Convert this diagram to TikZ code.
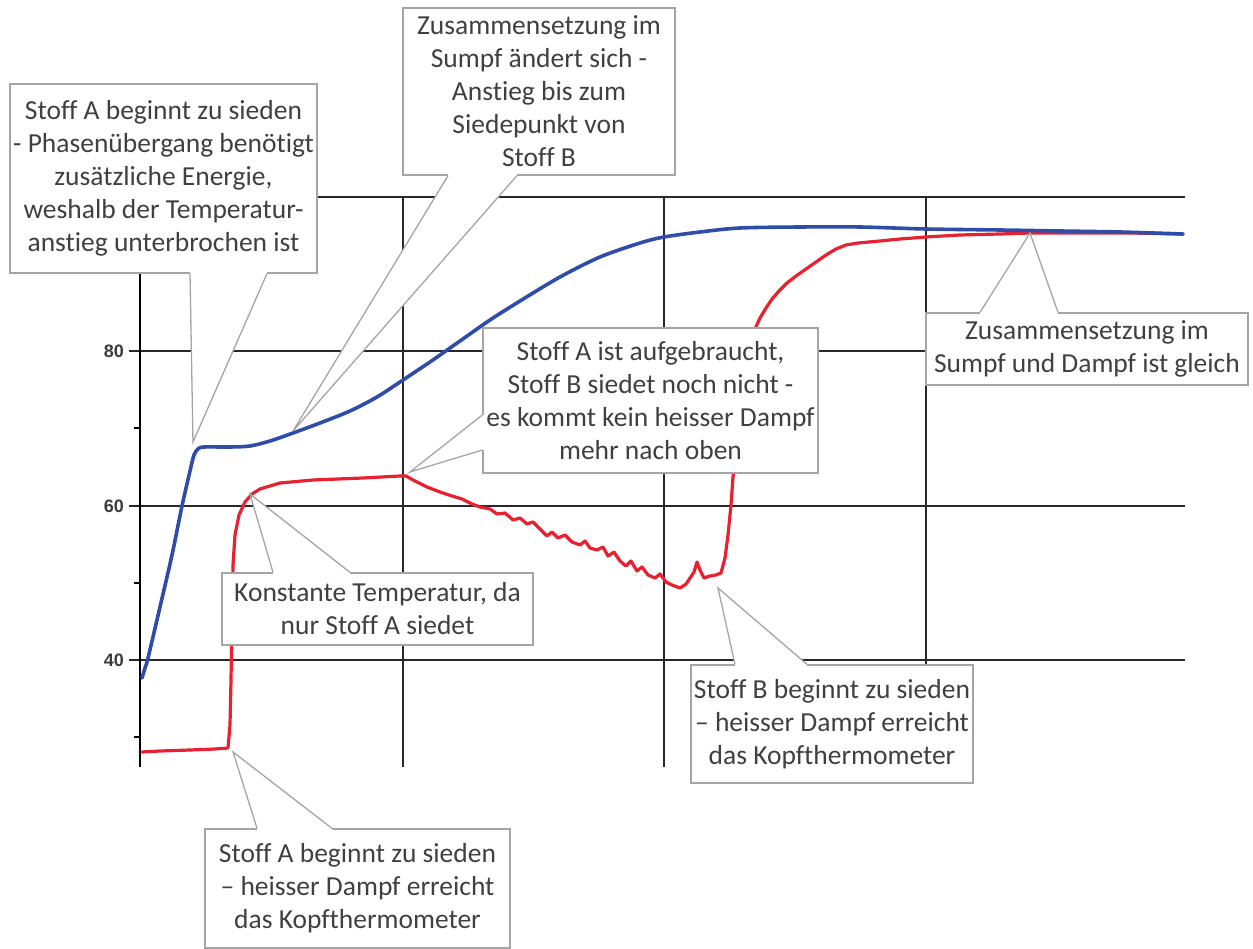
\documentclass[tikz,border=0pt]{standalone}
\usepackage{fontspec}
\setmainfont{Carlito}[Ligatures=NoCommon]
\newfontfamily\axisfont{Liberation Sans}
\usetikzlibrary{calc}
\definecolor{curveblue}{RGB}{47,77,168}
\definecolor{curvered}{RGB}{232,32,48}
\definecolor{boxgray}{RGB}{165,165,165}
\definecolor{txtgray}{RGB}{64,64,64}
\definecolor{gridgray}{RGB}{40,40,40}
\definecolor{labgray}{RGB}{60,60,60}
\pgfdeclarelayer{gridlayer}
\pgfdeclarelayer{wedgelayer}
\pgfdeclarelayer{curvelayer}
\pgfsetlayers{gridlayer,wedgelayer,curvelayer,main}
\tikzset{
  callbox/.style={draw=boxgray, line width=1.3pt, fill=white, inner sep=0pt,
    align=center, text=txtgray, font=\fontsize{27.5}{33}\selectfont},
  wedgeline/.style={draw=boxgray, line width=1.3pt, line join=miter},
  wedgefill/.style={fill=white},
  gridline/.style={draw=gridgray, line width=1.5pt},
  axisline/.style={draw=black, line width=2.6pt},
  minortick/.style={draw=black, line width=1.5pt},
  axislabel/.style={anchor=east, inner sep=0pt, text=labgray,
    font=\axisfont\bfseries\fontsize{18}{18}\selectfont},
  bluecurve/.style={draw=curveblue, line width=3.6pt, line join=round, line cap=round},
  redcurve/.style={draw=curvered, line width=3.2pt, line join=round, line cap=round},
}
\begin{document}
\begin{tikzpicture}[x=1pt,y=-1pt]
\useasboundingbox (0,0) rectangle (1253,949);

% ---------- grid and axis ----------
\begin{pgfonlayer}{gridlayer}
  \coordinate (g100l) at (140,197);  \coordinate (g100r) at (1185,197);
  \coordinate (g80l) at (129,351);   \coordinate (g80r) at (1185,351);
  \coordinate (g60l) at (129,506);   \coordinate (g60r) at (1185,506);
  \coordinate (g40l) at (129,660);   \coordinate (g40r) at (1185,660);
  \coordinate (v1t) at (403,197);    \coordinate (v1b) at (403,767);
  \coordinate (v2t) at (664,197);    \coordinate (v2b) at (664,767);
  \coordinate (v3t) at (926,197);    \coordinate (v3b) at (926,767);
  \coordinate (axt) at (140,197);    \coordinate (axb) at (140,767);
  \draw[gridline] (g100l) -- (g100r);
  \draw[gridline] (g80l) -- (g80r);
  \draw[gridline] (g60l) -- (g60r);
  \draw[gridline] (g40l) -- (g40r);
  \draw[gridline] (v1t) -- (v1b);
  \draw[gridline] (v2t) -- (v2b);
  \draw[gridline] (v3t) -- (v3b);
  \draw[axisline] (axt) -- (axb);
  \coordinate (m70) at (134,428); \coordinate (m70e) at (140,428);
  \coordinate (m50) at (134,583); \coordinate (m50e) at (140,583);
  \coordinate (m30) at (134,737); \coordinate (m30e) at (140,737);
  \draw[minortick] (m70) -- (m70e);
  \draw[minortick] (m50) -- (m50e);
  \draw[minortick] (m30) -- (m30e);
  \node[axislabel] (l80) at (124,351) {80};
  \node[axislabel] (l60) at (124,506) {60};
  \node[axislabel] (l40) at (124,660) {40};
\end{pgfonlayer}

% ---------- curves ----------
\begin{pgfonlayer}{curvelayer}
  \draw[redcurve] (142,752) -- (160,751) -- (190,750) -- (215,749) -- (228,748)
    -- (230,725) -- (231,680) -- (232,620) -- (233,565) -- (235,535) -- (239,515)
    -- (245,502) -- (252,494) -- (260,489) -- (280,483) -- (313,480) -- (363,478)
    -- (400,476) -- (406,476) -- (413,480) -- (427,487) -- (440,492) -- (452,496)
    -- (462,499) -- (472,504) -- (480,507) -- (490,509) -- (497,514) -- (505,513)
    -- (513,520) -- (520,518) -- (527,524) -- (533,522) -- (540,529) -- (547,536)
    -- (552,532) -- (558,538) -- (565,535) -- (572,542) -- (580,545) -- (585,541)
    -- (590,548) -- (597,550) -- (603,547) -- (608,556) -- (614,552) -- (620,561)
    -- (626,566) -- (631,561) -- (637,571) -- (642,567) -- (648,575) -- (655,578)
    -- (660,574) -- (666,582) -- (672,585) -- (680,588) -- (686,584) -- (690,578)
    -- (694,572) -- (697,562) -- (700,570) -- (704,578) -- (710,576) -- (716,575)
    -- (721,573) -- (725,558) -- (728,535) -- (731,505) -- (733,477) -- (737,440)
    -- (742,400) -- (747,366) -- (751,343) -- (755,329) -- (760,318) -- (766,308)
    -- (772,299) -- (779,291) -- (787,283) -- (796,276) -- (806,269) -- (816,262)
    -- (826,255) -- (836,249) -- (846,245) -- (858,243) -- (880,241) -- (900,239)
    -- (926,237) -- (960,235) -- (1000,234) -- (1030,233) -- (1080,233)
    -- (1130,233) -- (1183,234);
  \draw[bluecurve] plot[smooth, tension=0.5] coordinates {
    (142,678) (145,668) (148,658) (160,607) (172,555) (182,506) (190,471)
    (194,455) (198,449) (204,447) (230,447) (250,446) (270,441) (293,433)
    (320,423) (350,411) (377,397) (403,380) (430,362) (460,341) (490,320)
    (520,301) (560,277) (600,257) (640,243) (664,237) (700,232) (740,228)
    (800,227) (860,227) (926,229) (1000,230) (1060,231) (1120,232) (1183,234)};
\end{pgfonlayer}

% ---------- callout boxes ----------
\node[callbox, minimum width=307pt, minimum height=189pt] (c1) at (163.5,178.5)
  {Stoff A beginnt zu sieden\\- Phasenübergang benötigt\\zusätzliche Energie,\\weshalb der Temperatur-\\anstieg unterbrochen ist};
\node[callbox, minimum width=272pt, minimum height=167pt] (c2) at (539,91.5)
  {Zusammensetzung im\\Sumpf ändert sich -\\Anstieg bis zum\\Siedepunkt von\\Stoff B};
\node[callbox, minimum width=335pt, minimum height=145pt] (c3) at (650.5,400.5)
  {Stoff A ist aufgebraucht,\\Stoff B siedet noch nicht -\\es kommt kein heisser Dampf\\mehr nach oben};
\node[callbox, minimum width=322pt, minimum height=72pt] (c4) at (1087,349)
  {Zusammensetzung im\\Sumpf und Dampf ist gleich};
\node[callbox, minimum width=311pt, minimum height=72pt] (c5) at (377.5,609)
  {Konstante Temperatur, da\\nur Stoff A siedet};
\node[callbox, minimum width=305pt, minimum height=119pt] (c6) at (357.5,888.5)
  {Stoff A beginnt zu sieden\\– heisser Dampf erreicht\\das Kopfthermometer};
\node[callbox, minimum width=282pt, minimum height=118pt] (c7) at (832,724)
  {Stoff B beginnt zu sieden\\– heisser Dampf erreicht\\das Kopfthermometer};

% ---------- wedge points ----------
\coordinate (t1) at (193,442);
\coordinate (c1a) at (190,0 |- c1.south); \coordinate (c1b) at (267,0 |- c1.south);
\coordinate (t2) at (293,431);
\coordinate (c2a) at (448,0 |- c2.south); \coordinate (c2b) at (517,0 |- c2.south);
\coordinate (t3) at (410,472);
\coordinate (c3a) at (c3.west |- 0,415); \coordinate (c3b) at (c3.west |- 0,450);
\coordinate (t4) at (1030,233);
\coordinate (c4a) at (980,0 |- c4.north); \coordinate (c4b) at (1058,0 |- c4.north);
\coordinate (t5) at (250,494);
\coordinate (c5a) at (273,0 |- c5.north); \coordinate (c5b) at (350,0 |- c5.north);
\coordinate (t6) at (233,752);
\coordinate (c6a) at (257,0 |- c6.north); \coordinate (c6b) at (332,0 |- c6.north);
\coordinate (t7) at (718,588);
\coordinate (c7a) at (735,0 |- c7.north); \coordinate (c7b) at (807,0 |- c7.north);

% wedge interiors hide the grid
\begin{pgfonlayer}{wedgelayer}
  \foreach \w in {1,...,7} {
    \fill[wedgefill] (c\w a) -- (t\w) -- (c\w b) -- cycle;
  }
\end{pgfonlayer}

% open the box border at each wedge base
\foreach \w in {1,2,4,5,6,7} {
  \fill[wedgefill] ([yshift=1.2pt]c\w a) rectangle ([yshift=-1.2pt]c\w b);
}
\fill[wedgefill] ([xshift=-1.2pt]c3a) rectangle ([xshift=1.2pt]c3b);

% wedge sides
\foreach \w in {1,...,7} {
  \draw[wedgeline] (c\w a) -- (t\w) -- (c\w b);
}
\end{tikzpicture}
\end{document}
